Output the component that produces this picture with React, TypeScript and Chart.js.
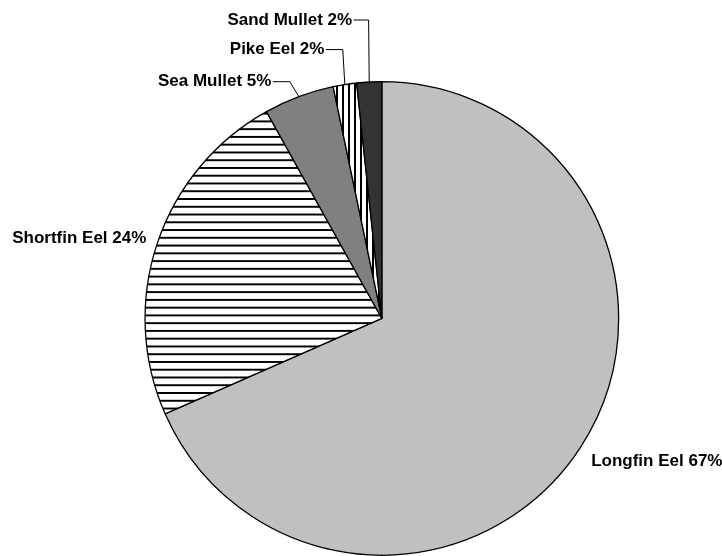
import React, { useEffect, useRef } from "react";
import { Chart, registerables } from "chart.js";

Chart.register(...registerables);

// ---- data ----
const categories = ["Longfin Eel", "Shortfin Eel", "Sea Mullet", "Pike Eel", "Sand Mullet"];
const values = [68.4, 23.5, 4.8, 1.6, 1.7];
const percentLabels = ["67%", "24%", "5%", "2%", "2%"];

// ---- label placement (relative to the slice's outer mid-point) ----
type Placement = { dx: number; dy: number; align: "left" | "right"; leader: boolean; run: number };
const labelPlacement: Placement[] = [
  { dx: 11, dy: 13, align: "left", leader: false, run: 0 },
  { dx: -11, dy: -4.5, align: "right", leader: false, run: 0 },
  { dx: -9, dy: -15, align: "right", leader: true, run: 17 },
  { dx: -2, dy: -35, align: "right", leader: true, run: 17 },
  { dx: -0.6, dy: -62, align: "right", leader: true, run: 15 },
];

const FONT = "bold 17px 'Liberation Sans', Arial, sans-serif";

function makeHorizontalStripes(): CanvasPattern | string {
  const c = document.createElement("canvas");
  c.width = 8;
  c.height = 8;
  const g = c.getContext("2d");
  if (!g) return "#ffffff";
  g.fillStyle = "#ffffff";
  g.fillRect(0, 0, 8, 8);
  g.fillStyle = "#000000";
  g.fillRect(0, 0, 8, 2);
  const p = g.createPattern(c, "repeat");
  if (!p) return "#ffffff";
  try {
    p.setTransform(new DOMMatrix().translate(0, 4).scale(1, 0.97));
  } catch (e) {}
  return p;
}

function makeVerticalStripes(): CanvasPattern | string {
  const c = document.createElement("canvas");
  c.width = 6;
  c.height = 6;
  const g = c.getContext("2d");
  if (!g) return "#ffffff";
  g.fillStyle = "#ffffff";
  g.fillRect(0, 0, 6, 6);
  g.fillStyle = "#000000";
  g.fillRect(0, 0, 2, 6);
  const p = g.createPattern(c, "repeat");
  return p || "#ffffff";
}

const labelPlugin = {
  id: "sliceLabels",
  afterDraw(chart: any) {
    const ctx: CanvasRenderingContext2D = chart.ctx;
    const meta = chart.getDatasetMeta(0);
    ctx.save();
    ctx.font = FONT;
    ctx.fillStyle = "#000000";
    ctx.textBaseline = "middle";
    meta.data.forEach((arc: any, i: number) => {
      const { x, y, startAngle, endAngle, outerRadius } = arc.getProps(
        ["x", "y", "startAngle", "endAngle", "outerRadius"],
        true
      );
      const mid = (startAngle + endAngle) / 2;
      const ax = x + outerRadius * Math.cos(mid);
      const ay = y + outerRadius * Math.sin(mid);
      const pl = labelPlacement[i];
      const text = categories[i] + " " + percentLabels[i];
      const ex = ax + pl.dx;
      const ey = ay + pl.dy;
      if (pl.leader) {
        ctx.beginPath();
        ctx.strokeStyle = "#000000";
        ctx.lineWidth = 1;
        ctx.moveTo(ax, ay);
        ctx.lineTo(ex, ey);
        ctx.lineTo(ex - pl.run, ey);
        ctx.stroke();
        ctx.textAlign = "right";
        ctx.fillText(text, ex - pl.run - 1.5, ey);
      } else {
        ctx.textAlign = pl.align;
        ctx.fillText(text, ex, ey);
      }
    });
    ctx.restore();
  },
};

export default function App() {
  const ref = useRef<HTMLCanvasElement | null>(null);

  useEffect(() => {
    if (!ref.current) return;
    const colors = [
      "#c0c0c0",
      makeHorizontalStripes(),
      "#808080",
      makeVerticalStripes(),
      "#333333",
    ];
    const chart = new Chart(ref.current, {
      type: "pie",
      data: {
        labels: categories,
        datasets: [
          {
            data: values,
            backgroundColor: colors as any,
            borderColor: "#000000",
            borderWidth: 1.3,
          },
        ],
      },
      options: {
        animation: false,
        responsive: false,
        maintainAspectRatio: false,
        devicePixelRatio: 1,
        layout: {
          padding: { left: 144.4, top: 80.9, right: 102.7, bottom: 0 },
        },
        plugins: {
          legend: { display: false },
          tooltip: { enabled: false },
        },
      },
      plugins: [labelPlugin],
    });
    return () => chart.destroy();
  }, []);

  return (
    <div style={{ position: "absolute", left: 0, top: 0, width: 722, height: 556, background: "#ffffff" }}>
      <canvas ref={ref} width={722} height={556} style={{ display: "block", width: 722, height: 556 }} />
    </div>
  );
}
